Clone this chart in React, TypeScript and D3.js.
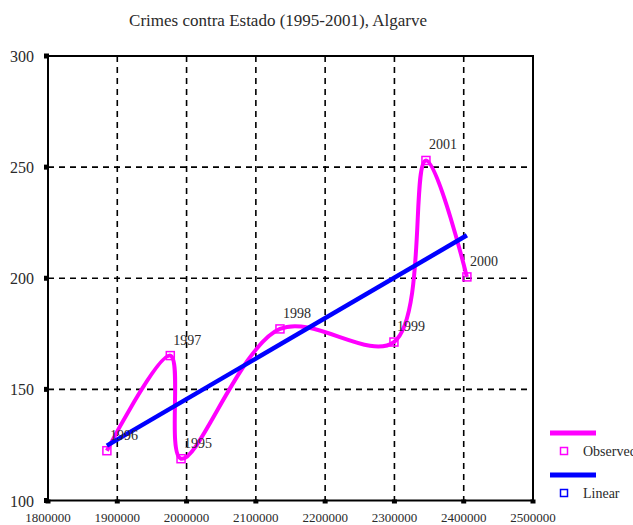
import React from "react";
import * as d3 from "d3";

const years = ["1995", "1996", "1997", "1998", "1999", "2000", "2001"];
const population = [1992000, 1885000, 1976500, 2134800, 2299300, 2404600, 2345500];
const crimes = [118.8, 122.4, 165.2, 177.2, 171.3, 200.6, 253.0];
const xTicks = [1800000, 1900000, 2000000, 2100000, 2200000, 2300000, 2400000, 2500000];
const yTicks = [100, 150, 200, 250, 300];
const title = "Crimes contra Estado (1995-2001), Algarve";
const legendLabels = ["Observed", "Linear"];

const W = 633, H = 525;
const left = 48, right = 533, top = 56, bottom = 500.5;
const FONT = "'Liberation Serif', 'Times New Roman', serif";
const MAG = "#ff00ff";
const BLUE = "#0000ff";
const TXT = "#2a2a2a";

export default function App() {
  const x = d3.scaleLinear().domain([1800000, 2500000]).range([left, right]);
  const y = d3.scaleLinear().domain([100, 300]).range([bottom, top]);

  const pts = population.map((p, i) => ({ x: p, y: crimes[i], label: years[i] }));
  const sorted = [...pts].sort((a, b) => a.x - b.x);

  const line = d3
    .line<{ x: number; y: number }>()
    .x((d) => x(d.x))
    .y((d) => y(d.y))
    .curve(d3.curveCatmullRom.alpha(0.5));

  // linear regression
  const mx = d3.mean(population)!;
  const my = d3.mean(crimes)!;
  const sxy = d3.sum(population.map((p, i) => (p - mx) * (crimes[i] - my)));
  const sxx = d3.sum(population.map((p) => (p - mx) * (p - mx)));
  const slope = sxy / sxx;
  const icpt = my - slope * mx;
  const x0 = d3.min(population)!;
  const x1 = d3.max(population)!;

  return (
    <svg
      width={W}
      height={H}
      style={{ position: "absolute", left: 0, top: 0, background: "#fff" }}
      fontFamily={FONT}
    >
      <rect x={0} y={0} width={W} height={H} fill="#fff" />
      <text x={278} y={26} textAnchor="middle" fontSize={17} fill={TXT}>
        {title}
      </text>

      {/* grid */}
      {xTicks.slice(1, -1).map((t) => (
        <line key={"gx" + t} x1={x(t)} x2={x(t)} y1={top} y2={bottom} stroke="#000" strokeWidth={1.6} strokeDasharray="6,5" />
      ))}
      {yTicks.slice(1, -1).map((t) => (
        <line key={"gy" + t} x1={left} x2={right} y1={y(t)} y2={y(t)} stroke="#000" strokeWidth={1.6} strokeDasharray="6,5" />
      ))}

      {/* frame */}
      <rect x={left} y={top} width={right - left} height={bottom - top} fill="none" stroke="#000" strokeWidth={2} />

      {/* ticks */}
      {xTicks.map((t) => (
        <g key={"tx" + t}>
          <rect x={x(t) - 2.5} y={bottom - 1} width={5} height={4} fill="#000" />
          <text x={x(t)} y={522} textAnchor="middle" fontSize={13} fill={TXT}>
            {t}
          </text>
        </g>
      ))}
      {yTicks.map((t) => (
        <g key={"ty" + t}>
          <rect x={left - 4} y={y(t) - 2.5} width={5} height={5} fill="#000" />
          <text x={34} y={y(t) + 6} textAnchor="end" fontSize={16} fill={TXT}>
            {t}
          </text>
        </g>
      ))}

      {/* observed curve */}
      <path d={line(sorted) || ""} fill="none" stroke={MAG} strokeWidth={4} strokeLinejoin="round" />
      {pts.map((p) => (
        <rect key={"m" + p.label} x={x(p.x) - 4} y={y(p.y) - 4} width={8} height={8} fill="none" stroke={MAG} strokeWidth={1.5} />
      ))}

      {/* linear fit */}
      <line x1={x(x0)} y1={y(icpt + slope * x0)} x2={x(x1)} y2={y(icpt + slope * x1)} stroke={BLUE} strokeWidth={4.5} />

      {/* point labels */}
      {pts.map((p) => (
        <text key={"l" + p.label} x={x(p.x) + 3} y={y(p.y) - 11} fontSize={14} fill={TXT}>
          {p.label}
        </text>
      ))}

      {/* legend */}
      <line x1={550} x2={596} y1={433} y2={433} stroke={MAG} strokeWidth={5} />
      <rect x={560.5} y={447.5} width={7} height={7} fill="none" stroke={MAG} strokeWidth={1.5} />
      <text x={583} y={456} fontSize={14} fill={TXT}>{legendLabels[0]}</text>
      <line x1={550} x2={596} y1={475} y2={475} stroke={BLUE} strokeWidth={5} />
      <rect x={560.5} y={489.5} width={7} height={7} fill="none" stroke={BLUE} strokeWidth={1.5} />
      <text x={583} y={498} fontSize={14} fill={TXT}>{legendLabels[1]}</text>
    </svg>
  );
}
